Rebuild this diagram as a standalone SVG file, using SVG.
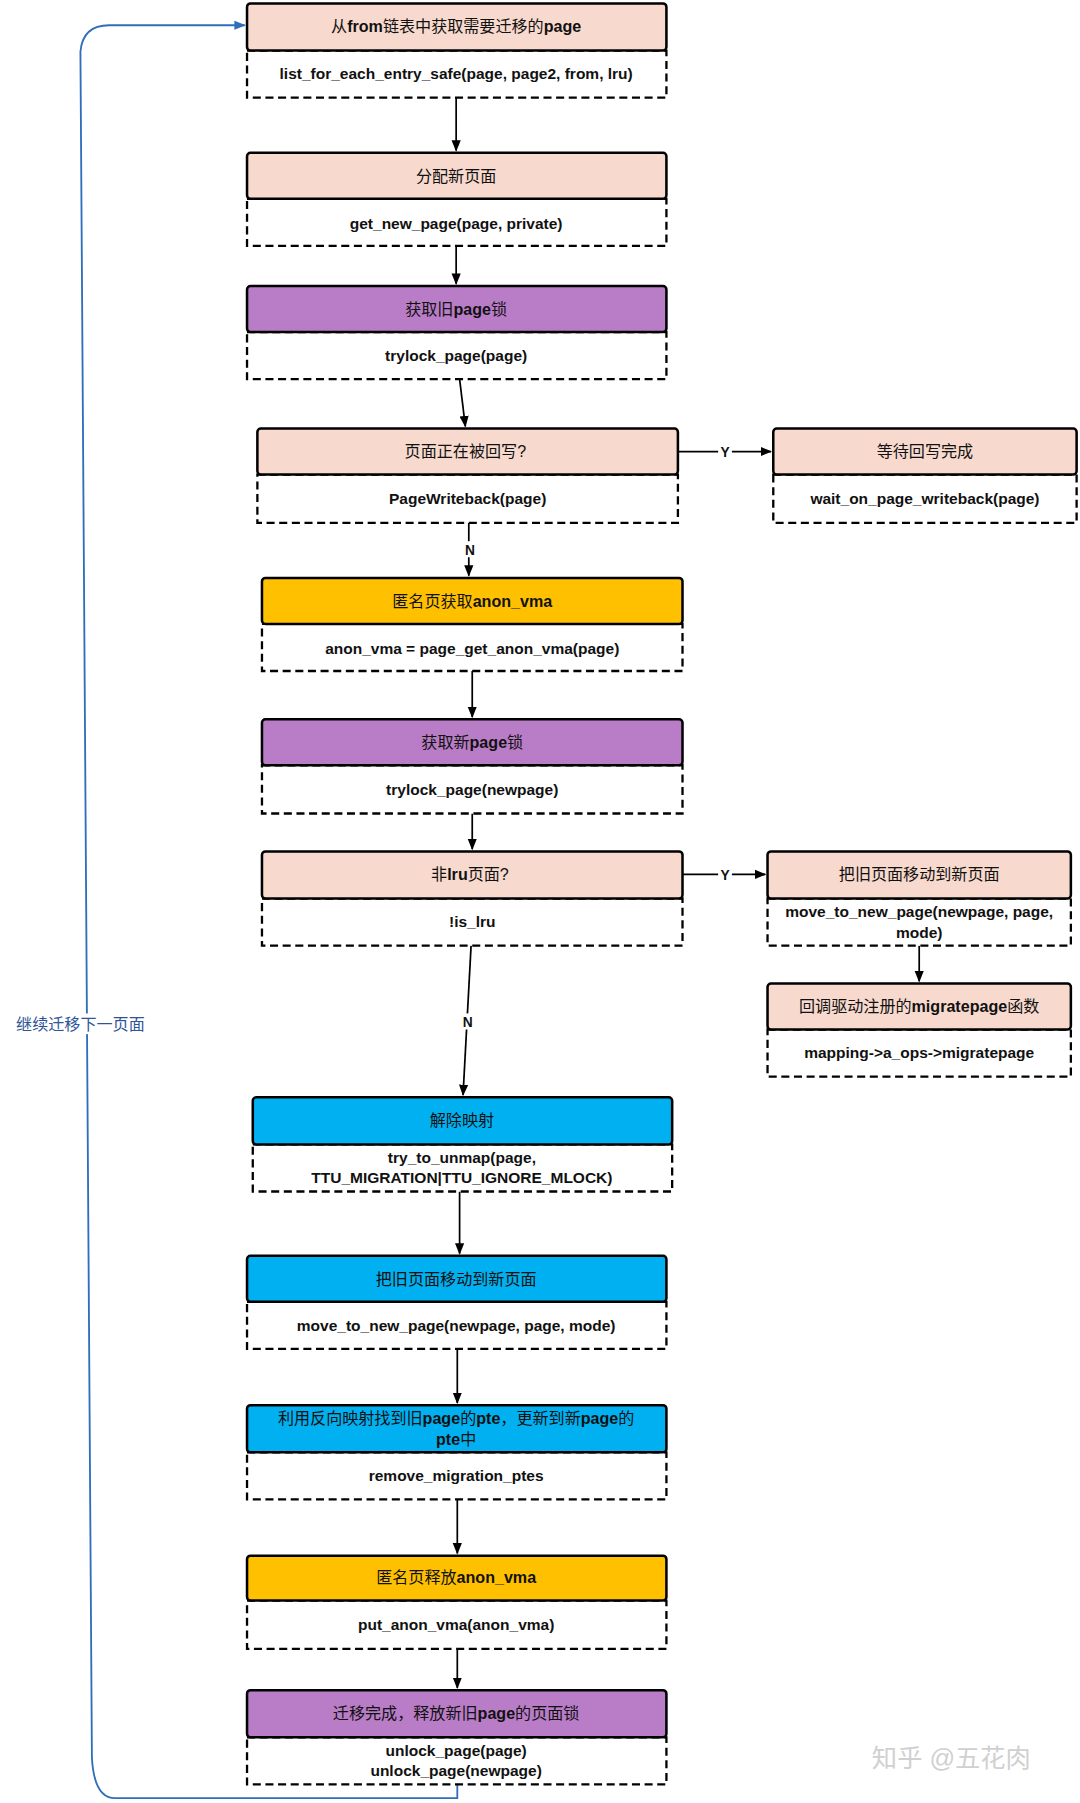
<svg xmlns="http://www.w3.org/2000/svg" width="1080" height="1803" viewBox="0 0 1080 1803">
<defs>
<marker id="ah" markerWidth="10" markerHeight="10" refX="9" refY="5" orient="auto" markerUnits="userSpaceOnUse"><path d="M0,1 L10,5 L0,9 Z" fill="#000"/></marker>
<marker id="ahb" markerWidth="10" markerHeight="10" refX="9" refY="5" orient="auto" markerUnits="userSpaceOnUse"><path d="M0,1 L10,5 L0,9 Z" fill="#2F6EBA"/></marker>
<style>
.h{stroke:#000;stroke-width:2.2}
.c{fill:#fff;stroke:#000;stroke-width:2;stroke-dasharray:7 4}
.pk{fill:#F8D9CD}.pu{fill:#B97CC7}.ye{fill:#FFC000}.bl{fill:#00B0F0}
text{font-family:"Liberation Sans","Noto Sans CJK SC",sans-serif;font-size:14px;text-anchor:middle;fill:#111}
.b{font-weight:bold}
.cd{font-weight:bold;font-size:13.5px}
.e{stroke:#000;stroke-width:1.5;fill:none}
.lb{font-weight:bold;font-size:12px}
</style>
</defs>
<rect width="1080" height="1803" fill="#fff"/>
<g transform="scale(1.149)">
<g id="connectors">
<path class="e" d="M397,85 V131" marker-end="url(#ah)"/>
<path class="e" d="M397,214 V247" marker-end="url(#ah)"/>
<path class="e" d="M400,330 L405,371" marker-end="url(#ah)"/>
<path class="e" d="M590,393 H671" marker-end="url(#ah)"/>
<rect x="625" y="386" width="12" height="14" fill="#fff"/><text class="lb" x="631" y="398">Y</text>
<path class="e" d="M408,455 V501" marker-end="url(#ah)"/>
<rect x="402" y="471" width="14" height="14" fill="#fff"/><text class="lb" x="409" y="483">N</text>
<path class="e" d="M411,584 V624" marker-end="url(#ah)"/>
<path class="e" d="M411,708 V739" marker-end="url(#ah)"/>
<path class="e" d="M594,761 H666" marker-end="url(#ah)"/>
<rect x="625" y="754" width="12" height="14" fill="#fff"/><text class="lb" x="631" y="766">Y</text>
<path class="e" d="M800,823 V854" marker-end="url(#ah)"/>
<path class="e" d="M410,823 L403,953" marker-end="url(#ah)"/>
<rect x="400" y="882" width="14" height="14" fill="#fff"/><text class="lb" x="407" y="894">N</text>
<path class="e" d="M400,1037 V1091" marker-end="url(#ah)"/>
<path class="e" d="M398,1174 V1221" marker-end="url(#ah)"/>
<path class="e" d="M398,1305 V1352" marker-end="url(#ah)"/>
<path class="e" d="M398,1435 V1469" marker-end="url(#ah)"/>
<path d="M398,1553 V1565 H100 Q82,1565 80,1530 L70,45 Q72,22 95,22 H213" fill="none" stroke="#2F6EBA" stroke-width="1.6" marker-end="url(#ahb)"/>
<rect x="8" y="882" width="124" height="18" fill="#fff"/>
<text x="70" y="896" style="fill:#2F5597;font-size:14px">继续迁移下一页面</text>
</g>
<g id="n1"><rect class="c" x="215" y="44" width="365" height="41"/><rect class="h pk" x="215" y="3" width="365" height="41" rx="3"/>
<text x="397" y="28">从<tspan class="b">from</tspan>链表中获取需要迁移的<tspan class="b">page</tspan></text><text class="cd" x="397" y="69">list_for_each_entry_safe(page, page2, from, lru)</text></g>
<g id="n2"><rect class="c" x="215" y="173" width="365" height="41"/><rect class="h pk" x="215" y="133" width="365" height="40" rx="3"/>
<text x="397" y="158">分配新页面</text><text class="cd" x="397" y="199">get_new_page(page, private)</text></g>
<g id="n3"><rect class="c" x="215" y="289" width="365" height="41"/><rect class="h pu" x="215" y="249" width="365" height="40" rx="3"/>
<text x="397" y="274">获取旧<tspan class="b">page</tspan>锁</text><text class="cd" x="397" y="314">trylock_page(page)</text></g>
<g id="n4"><rect class="c" x="224" y="413" width="366" height="42"/><rect class="h pk" x="224" y="373" width="366" height="40" rx="3"/>
<text x="405" y="398">页面正在被回写?</text><text class="cd" x="407" y="439">PageWriteback(page)</text></g>
<g id="n5"><rect class="c" x="673" y="413" width="264" height="42"/><rect class="h pk" x="673" y="373" width="264" height="40" rx="3"/>
<text x="805" y="398">等待回写完成</text><text class="cd" x="805" y="439">wait_on_page_writeback(page)</text></g>
<g id="n6"><rect class="c" x="228" y="543" width="366" height="41"/><rect class="h ye" x="228" y="503" width="366" height="40" rx="3"/>
<text x="411" y="528">匿名页获取<tspan class="b">anon_vma</tspan></text><text class="cd" x="411" y="569">anon_vma = page_get_anon_vma(page)</text></g>
<g id="n7"><rect class="c" x="228" y="666" width="366" height="42"/><rect class="h pu" x="228" y="626" width="366" height="40" rx="3"/>
<text x="411" y="651">获取新<tspan class="b">page</tspan>锁</text><text class="cd" x="411" y="692">trylock_page(newpage)</text></g>
<g id="n8"><rect class="c" x="228" y="782" width="366" height="41"/><rect class="h pk" x="228" y="741" width="366" height="41" rx="3"/>
<text x="409" y="766">非<tspan class="b">lru</tspan>页面?</text><text class="cd" x="411" y="807">!is_lru</text></g>
<g id="n9"><rect class="c" x="668" y="782" width="264" height="41"/><rect class="h pk" x="668" y="741" width="264" height="41" rx="3"/>
<text x="800" y="766">把旧页面移动到新页面</text><text class="cd" x="800" y="798">move_to_new_page(newpage, page,</text><text class="cd" x="800" y="816">mode)</text></g>
<g id="n10"><rect class="c" x="668" y="896" width="264" height="41"/><rect class="h pk" x="668" y="856" width="264" height="40" rx="3"/>
<text x="800" y="881">回调驱动注册的<tspan class="b">migratepage</tspan>函数</text><text class="cd" x="800" y="921">mapping-&gt;a_ops-&gt;migratepage</text></g>
<g id="n11"><rect class="c" x="220" y="996" width="365" height="41"/><rect class="h bl" x="220" y="955" width="365" height="41" rx="3"/>
<text x="402" y="980">解除映射</text><text class="cd" x="402" y="1012">try_to_unmap(page,</text><text class="cd" x="402" y="1030">TTU_MIGRATION|TTU_IGNORE_MLOCK)</text></g>
<g id="n12"><rect class="c" x="215" y="1133" width="365" height="41"/><rect class="h bl" x="215" y="1093" width="365" height="40" rx="3"/>
<text x="397" y="1118">把旧页面移动到新页面</text><text class="cd" x="397" y="1158">move_to_new_page(newpage, page, mode)</text></g>
<g id="n13"><rect class="c" x="215" y="1264" width="365" height="41"/><rect class="h bl" x="215" y="1223" width="365" height="41" rx="3"/>
<text x="397" y="1239">利用反向映射找到旧<tspan class="b">page</tspan>的<tspan class="b">pte</tspan>，更新到新<tspan class="b">page</tspan>的</text><text x="397" y="1258"><tspan class="b">pte</tspan>中</text><text class="cd" x="397" y="1289">remove_migration_ptes</text></g>
<g id="n14"><rect class="c" x="215" y="1393" width="365" height="42"/><rect class="h ye" x="215" y="1354" width="365" height="39" rx="3"/>
<text x="397" y="1378">匿名页释放<tspan class="b">anon_vma</tspan></text><text class="cd" x="397" y="1419">put_anon_vma(anon_vma)</text></g>
<g id="n15"><rect class="c" x="215" y="1512" width="365" height="41"/><rect class="h pu" x="215" y="1471" width="365" height="41" rx="3"/>
<text x="397" y="1496">迁移完成，释放新旧<tspan class="b">page</tspan>的页面锁</text><text class="cd" x="397" y="1528">unlock_page(page)</text><text class="cd" x="397" y="1546">unlock_page(newpage)</text></g>
<text x="828" y="1538" style="font-size:22px;fill:#d0d0d0">知乎 @五花肉</text>
</g>
</svg>
